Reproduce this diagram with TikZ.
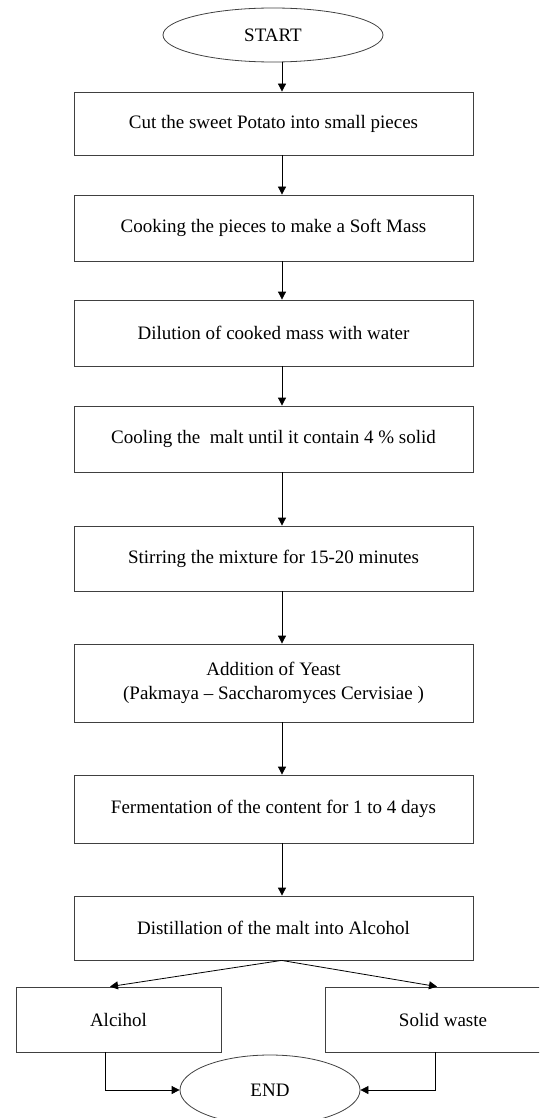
\documentclass[tikz,border=0pt]{standalone}
\usepackage{fontspec}
\setmainfont{Liberation Serif}
\usetikzlibrary{arrows.meta}
\usetikzlibrary{shapes.geometric}
\tikzset{>={Triangle[length=8pt,width=8pt]}}
\tikzset{
  stepbox/.style={draw=black!75, rectangle, inner sep=0pt, align=center,
    minimum width=399pt, minimum height=64pt, font=\fontsize{19}{24}\selectfont},
  sidebox/.style={stepbox, minimum height=65pt},
  terminal/.style={draw=black!75, ellipse, inner sep=0pt, font=\fontsize{19}{24}\selectfont}
}

\begin{document}
\begin{tikzpicture}[x=1pt, y=-1pt, line width=0.8pt]
    \useasboundingbox (0,0) rectangle (539,1118);
    \clip (0,0) rectangle (539,1118);

    \node[terminal, minimum width=220pt, minimum height=54pt] (start) at (273,35) {START};

    \node[stepbox, minimum height=63pt] (cut) at (273.5,123.5) {Cut the sweet Potato into small pieces};
    \node[stepbox, minimum height=66pt] (cook) at (273.5,228) {Cooking the pieces to make a Soft Mass};
    \node[stepbox, minimum height=66pt] (dilute) at (273.5,333) {Dilution of cooked mass with water};
    \node[stepbox, minimum height=66pt] (cool) at (273.5,439) {Cooling the \ malt until it contain 4 \% solid};
    \node[stepbox, minimum height=65pt] (stir) at (273.5,558.5) {Stirring the mixture for 15-20 minutes};
    \node[stepbox, minimum height=78pt] (yeast) at (273.5,683) {Addition of Yeast\\(Pakmaya -- Saccharomyces Cervisiae )};
    \node[stepbox, minimum height=68pt] (ferment) at (273.5,809) {Fermentation of the content for 1 to 4 days};
    \node[stepbox, minimum height=64pt] (distil) at (273.5,928) {Distillation of the malt into Alcohol};

    \node[sidebox, minimum width=205pt] (alcohol) at (118.5,1019.5) {Alcihol};
    \node[sidebox, minimum width=236pt] (waste) at (443,1019.5) {Solid waste};

    \node[terminal, minimum width=180pt, minimum height=70pt] (stop) at (270,1090) {END};

    \draw[->] ([xshift=9pt]start.south) -- ([xshift=8.5pt]cut.north);
    \draw[->] ([xshift=8.5pt]cut.south) -- ([xshift=8.5pt]cook.north);
    \draw[->] ([xshift=8.5pt]cook.south) -- ([xshift=8.5pt]dilute.north);
    \draw[->] ([xshift=8.5pt]dilute.south) -- ([xshift=8.5pt]cool.north);
    \draw[->] ([xshift=8.5pt]cool.south) -- ([xshift=8.5pt]stir.north);
    \draw[->] ([xshift=8.5pt]stir.south) -- ([xshift=8.5pt]yeast.north);
    \draw[->] ([xshift=8.5pt]yeast.south) -- ([xshift=8.5pt]ferment.north);
    \draw[->] ([xshift=8.5pt]ferment.south) -- ([xshift=8.5pt]distil.north);

    \draw[->] ([xshift=8pt]distil.south) -- ([xshift=-8.5pt]alcohol.north);
    \draw[->] ([xshift=8pt]distil.south) -- ([xshift=-6pt]waste.north);

    \draw[->] ([xshift=-13.5pt]alcohol.south) |- (stop.west);
    \draw[->] ([xshift=-8pt]waste.south) |- (stop.east);
\end{tikzpicture}
\end{document}
